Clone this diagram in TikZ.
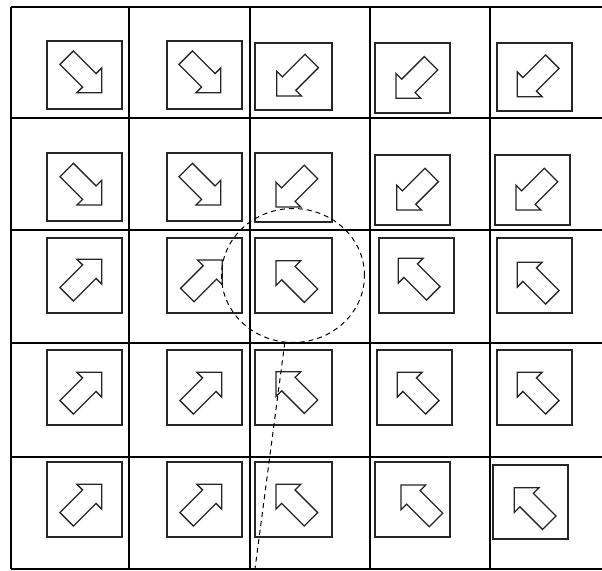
\documentclass[tikz,border=0pt]{standalone}
\usepackage{tikz}
\usetikzlibrary{shapes.geometric}

\begin{document}
\begin{tikzpicture}[
      x=1pt, y=-1pt,
      gridline/.style={draw=black, line width=1.4pt},
      cellbox/.style={draw=black!85, line width=1.4pt, inner sep=0pt,
                      minimum width=75pt, minimum height=75pt},
      lens/.style={draw=black, ellipse, line width=1pt, inner sep=0pt,
                   dash pattern=on 5pt off 4pt,
                   minimum width=143pt, minimum height=134pt},
      lensline/.style={draw=black, line width=1pt, dash pattern=on 5pt off 4pt},
      blockarr/.pic={
        \draw[black!85, line width=1.3pt, miter limit=4]
          (0,0) -- (-17.5,17.5) -- (-17.5,9.5) -- (-49.5,9.5)
          -- (-49.5,-9.5) -- (-17.5,-9.5) -- (-17.5,-17.5) -- cycle;
      }
    ]
    \useasboundingbox (0,0) rectangle (602,570);
    \fill[white] (0,0) rectangle (602,570);
    % grid
    \foreach \gx in {11,129,250,370,490}
      \draw[gridline] (\gx,7) -- (\gx,569);
    \foreach \gy in {7,118,230,343,457,569}
      \draw[gridline] (11,\gy) -- (602,\gy);
    % cell boxes
    \foreach \bname/\bx/\by/\bw/\bh in {
        b11/84.5/75/75/68, b12/204.5/75/75/68, b13/293.5/76.5/77/67,
        b14/412.5/78/75/70, b15/534.5/77/75/68,
        b21/84.5/187/75/68, b22/204.5/187/75/68, b23/293.5/187.5/77/69,
        b24/412.5/190/75/70, b25/532.5/190/75/70,
        b31/84.5/275.5/75/75, b32/204.5/275.5/75/75, b33/293.5/275.5/77/75,
        b34/416.5/275.5/75/75, b35/534.5/275.5/75/75,
        b41/84.5/387.5/75/75, b42/204.5/387.5/75/75, b43/293.5/387.5/77/75,
        b44/414.5/387.5/75/75, b45/534.5/387.5/75/75,
        b51/84.5/499.5/75/75, b52/204.5/499.5/75/75, b53/293.5/499.5/77/75,
        b54/412.5/499.5/75/75, b55/530.5/502/75/74}
      \node[cellbox, minimum width=\bw pt, minimum height=\bh pt] (\bname) at (\bx,\by) {};
    % arrows, placed by their tips
    \foreach \tx/\ty/\tang in {
        101.7/92.7/-45, 220.7/92.7/-45, 276.7/96/225, 396/98.3/225, 517.3/96.7/225,
        101.7/205/-45, 220.7/205/-45, 276/207/225, 396.7/210/225, 516/210/225,
        101.7/259.3/45, 222.3/260/45, 276/260.7/135, 398.3/258.3/135, 517.3/262.3/135,
        101.7/372.3/45, 221.7/372.3/45, 276/371.7/135, 397.3/372.3/135, 517.3/372.3/135,
        101.7/484.3/45, 221.7/484.3/45, 276/484.3/135, 401/485/135, 514.3/487.7/135}
      \pic[rotate=\tang] at (\tx,\ty) {blockarr};
    % magnified cell
    \node[lens] (focus) at (293,275.5) {};
    \coordinate (drop) at (255,569);
    \draw[lensline] (focus.263) -- (drop);
  \end{tikzpicture}
\end{document}
